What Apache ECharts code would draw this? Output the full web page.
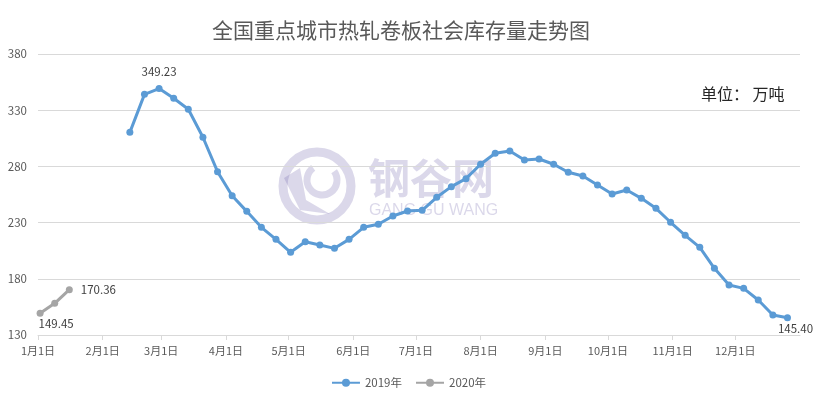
<!DOCTYPE html>
<html>
<head>
<meta charset="utf-8">
<script src="https://cdn.jsdelivr.net/npm/echarts@6/dist/echarts.min.js"></script>
<style>html,body{margin:0;padding:0;background:#fff;}#c{width:817px;height:401px;}</style>
</head>
<body>
<div id="c"></div>
<script>
const titleText = '全国重点城市热轧卷板社会库存量走势图';
const unitText = '单位： 万吨';
const seriesNames = ['2019年', '2020年'];
const axisYear = '2019';
const days2019 = ['02-14','02-21','02-28','03-07','03-14','03-21','03-28','04-04','04-11','04-18','04-25',
  '05-02','05-09','05-16','05-23','05-30','06-06','06-13','06-20','06-27','07-04','07-11','07-18','07-25',
  '08-01','08-08','08-15','08-22','08-29','09-05','09-12','09-19','09-26','10-03','10-10','10-17','10-24','10-31',
  '11-07','11-14','11-21','11-28','12-05','12-12','12-19','12-26'];
const values2019 = [310.3, 344.1, 349.23, 340.6, 330.8, 305.9, 275.3, 253.9, 240.0, 225.8, 215.1,
  203.6, 213.0, 210.1, 207.1, 215.1, 225.8, 228.5, 235.9, 240.3, 240.9, 252.5, 262.0, 269.1,
  281.9, 291.7, 293.7, 285.7, 286.6, 281.9, 274.8, 271.5, 263.5, 255.4, 259.0, 251.6, 242.7, 230.3,
  218.7, 208.0, 189.3, 174.5, 171.5, 161.1, 147.8, 145.40];
const days2020 = ['01-02','01-09','01-16'];
const values2020 = [149.45, 158.2, 170.36];
const yTicks = [130, 180, 230, 280, 330, 380];
const xMin = '2019-01-01';
const xMax = '2020-01-01';

const FONT = '"Noto Sans CJK SC", "Noto Sans", sans-serif';
const labelBase = {show: true, color: '#404040', fontSize: 11.5, fontFamily: FONT};

function build(days, vals, labels) {
  return days.map((d, i) => {
    const item = {value: [axisYear + '-' + d, vals[i]]};
    if (labels[i]) item.label = Object.assign({}, labelBase, labels[i], {formatter: vals[i].toFixed(2)});
    return item;
  });
}

const lab2019 = {};
lab2019[2] = {position: 'top', distance: 8};
lab2019[values2019.length - 1] = {position: 'bottom', distance: 2, offset: [8, 0]};
const lab2020 = {};
lab2020[0] = {position: 'bottom', distance: 1, offset: [16, 0]};
lab2020[2] = {position: 'right', distance: 8};

const wm = 'rgba(110,100,170,0.25)';
const chart = echarts.init(document.getElementById('c'));
chart.setOption({
  animation: false,
  backgroundColor: '#fff',
  textStyle: {fontFamily: FONT},
  title: {
    text: titleText, left: 396, top: 15, textAlign: 'center',
    textStyle: {fontSize: 21, fontWeight: 'normal', color: '#595959', fontFamily: FONT}
  },
  legend: {
    data: seriesNames, left: 'center', top: 372, itemWidth: 28, itemHeight: 10, itemGap: 13,
    textStyle: {fontSize: 11.5, color: '#595959', fontFamily: FONT}
  },
  grid: {left: 38, right: 17, top: 54, bottom: 66, containLabel: false},
  xAxis: {
    type: 'time', min: xMin, max: xMax, splitNumber: 12,
    axisLine: {show: true, lineStyle: {color: '#D9D9D9', width: 1}},
    axisTick: {show: true, length: 5, lineStyle: {color: '#D9D9D9'}},
    splitLine: {show: false},
    minorTick: {show: false},
    axisLabel: {
      color: '#595959', fontSize: 11, fontFamily: FONT, margin: 10, showMaxLabel: false, hideOverlap: false,
      formatter: function (v) {
        const d = new Date(v);
        if (d.getFullYear() !== Number(axisYear)) return '';
        return (d.getMonth() + 1) + '月' + d.getDate() + '日';
      }
    }
  },
  yAxis: {
    type: 'value', min: 130, max: 380, interval: 10,
    axisLine: {show: false}, axisTick: {show: false}, splitLine: {show: false},
    axisLabel: {
      color: '#595959', fontSize: 11.5, fontFamily: FONT, margin: 11,
      formatter: function (v) { return yTicks.indexOf(Math.round(v)) >= 0 ? String(Math.round(v)) : ''; }
    }
  },
  series: [
    {
      name: seriesNames[0], type: 'line', data: build(days2019, values2019, lab2019),
      symbol: 'circle', symbolSize: 7, showAllSymbol: true,
      lineStyle: {width: 3, color: '#5B9BD5'}, itemStyle: {color: '#5B9BD5'},
      label: {show: false}, z: 3,
      markLine: {
        silent: true, symbol: 'none', label: {show: false},
        lineStyle: {color: '#D9D9D9', width: 1, type: 'solid'},
        data: yTicks.map(v => ({yAxis: v})), z: 1
      }
    },
    {
      name: seriesNames[1], type: 'line', data: build(days2020, values2020, lab2020),
      symbol: 'circle', symbolSize: 7, showAllSymbol: true,
      lineStyle: {width: 3, color: '#A5A5A5'}, itemStyle: {color: '#A5A5A5'},
      label: {show: false}, z: 3
    }
  ],
  graphic: [
    {type: 'text', left: 701, top: 86, style: {text: unitText, fill: '#262626', font: '16px ' + FONT}},
    {type: 'group', z: 100, silent: true, children: [
      {type: 'circle', shape: {cx: 317, cy: 186, r: 34}, style: {fill: 'none', stroke: wm, lineWidth: 9}},
      {type: 'arc', shape: {cx: 322, cy: 180, r: 15, startAngle: -Math.PI * 0.2, endAngle: Math.PI * 1.3}, style: {fill: 'none', stroke: wm, lineWidth: 7}},
      {type: 'polygon', shape: {points: [[284, 178], [300, 168], [306, 200], [330, 214], [300, 210]]}, style: {fill: wm}},
      {type: 'text', x: 368, y: 157, style: {text: '钢谷网', fill: wm, font: 'bold 42px ' + FONT}},
      {type: 'text', x: 369, y: 203, style: {text: 'GANG GU WANG', fill: wm, font: '16px "Liberation Sans", Arial, sans-serif'}}
    ]}
  ]
});
</script>
</body>
</html>
